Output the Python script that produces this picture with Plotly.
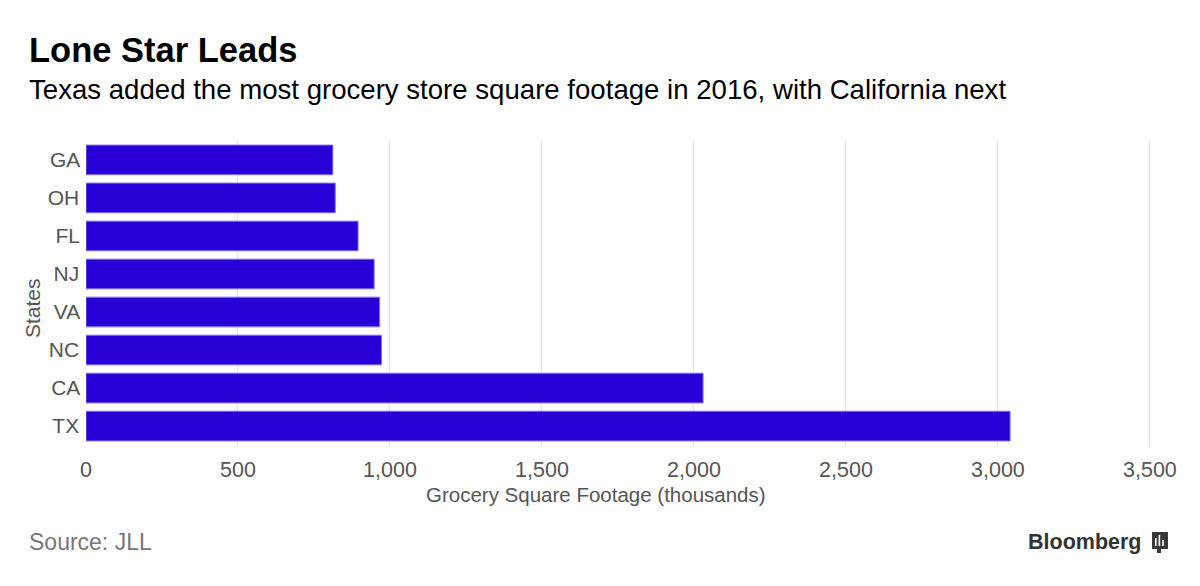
import plotly.graph_objects as go

states = ["TX", "CA", "NC", "VA", "NJ", "FL", "OH", "GA"]
footage = [3040, 2030, 972, 966, 948, 895, 820, 812]
x_ticks = [0, 500, 1000, 1500, 2000, 2500, 3000, 3500]
x_tick_labels = ["0", "500", "1,000", "1,500", "2,000", "2,500", "3,000", "3,500"]

FONT = "Liberation Sans, Arial, Helvetica, sans-serif"
OFF = 8  # page body margin offset

W, H = 1200, 586
plot_left, plot_right = 86 - OFF, 1156 - OFF
plot_top, plot_bottom = 139 - OFF, 447 - OFF

fig = go.Figure(go.Bar(
    x=footage, y=states, orientation="h",
    marker=dict(color="#2800d7", line=dict(color="#8070e8", width=1)),
    hoverinfo="x+y",
))

fig.update_layout(
    width=W, height=H,
    paper_bgcolor="white", plot_bgcolor="white",
    margin=dict(l=plot_left, r=W - plot_right, t=plot_top, b=H - plot_bottom, pad=0),
    bargap=0.22,
    showlegend=False,
    font=dict(family=FONT, color="#555555"),
    xaxis=dict(
        range=[0, 3520], tickvals=x_ticks, ticktext=x_tick_labels,
        showgrid=True, gridcolor="#e3e3ea", gridwidth=1,
        zeroline=False, showline=False,
        ticks="outside", ticklen=3, tickcolor="rgba(0,0,0,0)",
        tickfont=dict(size=21.5, color="#555555"),
        fixedrange=True,
    ),
    yaxis=dict(
        categoryorder="array", categoryarray=states,
        range=[-0.55, 7.55],
        showgrid=False, zeroline=False, showline=False,
        ticks="",
        tickfont=dict(size=21, color="#555555"),
        ticksuffix=" ",
        fixedrange=True,
    ),
)

pw = plot_right - plot_left
ph = plot_bottom - plot_top


def px_to_paper(px, py):
    # px, py given in page coordinates of the reference
    return (px - OFF - plot_left) / pw, (plot_bottom - (py - OFF)) / ph


texts = [
    ("<b>Lone Star Leads</b>", 27, 50, "left", 34.5, "#000000", 0),
    ("Texas added the most grocery store square footage in 2016, with California next", 27, 90, "left", 27.6, "#000000", 0),
    ("Source: JLL", 27, 542, "left", 23, "#777777", 0),
    ("<b>Bloomberg</b>", 1143, 542, "right", 21.5, "#333333", 0),
    ("Grocery Square Footage (thousands)", 596, 494, "center", 20.5, "#555555", 0),
    ("States", 32, 308, "center", 21, "#555555", -90),
]
for text, px, py, anchor, size, color, ang in texts:
    ax, ay = px_to_paper(px, py)
    fig.add_annotation(text=text, xref="paper", yref="paper", x=ax, y=ay,
                       xanchor=anchor, yanchor="middle", showarrow=False,
                       textangle=ang,
                       font=dict(size=size, color=color, family=FONT))

# Bloomberg logo mark
lx, ly = px_to_paper(1152, 532)
lx2, ly2 = px_to_paper(1168, 549)
fig.add_shape(type="rect", xref="paper", yref="paper", x0=lx, y0=ly, x1=lx2, y1=ly2,
              fillcolor="#3a3a3a", line=dict(width=0))
tx0, ty0 = px_to_paper(1157, 549)
tx1, ty1 = px_to_paper(1161, 553)
fig.add_shape(type="rect", xref="paper", yref="paper", x0=tx0, y0=ty0, x1=tx1, y1=ty1,
              fillcolor="#3a3a3a", line=dict(width=0))
for i, h in enumerate([8, 11, 6]):
    bx0, by0 = px_to_paper(1155 + i * 3.6, 546)
    bx1, by1 = px_to_paper(1156.6 + i * 3.6, 546 - h)
    fig.add_shape(type="rect", xref="paper", yref="paper", x0=bx0, y0=by0, x1=bx1, y1=by1,
                  fillcolor="white", line=dict(width=0))

fig.write_html("out.html")
